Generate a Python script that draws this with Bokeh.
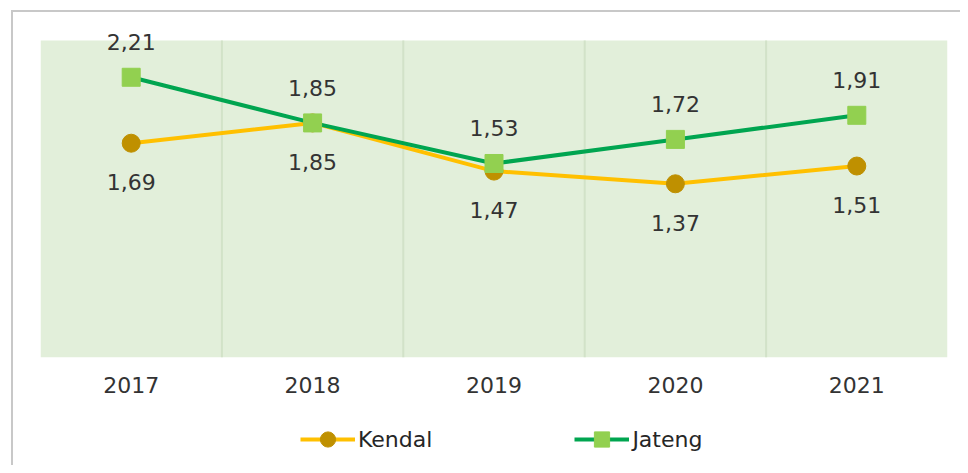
from bokeh.plotting import figure
from bokeh.layouts import column
from bokeh.models import (ColumnDataSource, Range1d, FixedTicker, Legend,
                          LegendItem)
from bokeh.core.properties import value
from bokeh.embed import file_html
from bokeh.resources import INLINE

# ---- data ----
years = ["2017", "2018", "2019", "2020", "2021"]
kendal = [1.69, 1.85, 1.47, 1.37, 1.51]
jateng = [2.21, 1.85, 1.53, 1.72, 1.91]
series_names = ["Kendal", "Jateng"]
y_max = 2.5

FONT = "DejaVu Sans"
TXT = "#333333"
BG = "#E2EFDA"
K_LINE, K_MARK = "#FFC000", "#BF9000"
J_LINE, J_MARK = "#00A550", "#92D050"

xs = [i + 0.5 for i in range(len(years))]
boundaries = [i for i in range(1, len(years))]

def fmt(v):
    return f"{v:.2f}".replace(".", ",")

src_k = ColumnDataSource(dict(x=xs, y=kendal, lab=[fmt(v) for v in kendal]))
src_j = ColumnDataSource(dict(x=xs, y=jateng, lab=[fmt(v) for v in jateng]))

# layout: green area spans y 40..357 px; frame extended up to 12 px so labels are not clipped
FRAME_TOP, AREA_TOP, AREA_BOTTOM = 12, 40, 357
y_end = y_max * (AREA_BOTTOM - FRAME_TOP) / (AREA_BOTTOM - AREA_TOP)

p = figure(width=960, height=420, output_backend="svg", toolbar_location=None,
           x_range=Range1d(0, len(years)), y_range=Range1d(0, y_end),
           y_axis_location=None,
           min_border_left=40, min_border_top=FRAME_TOP, min_border_right=13,
           min_border_bottom=420 - AREA_BOTTOM)

p.background_fill_alpha = 0
p.border_fill_alpha = 0
p.outline_line_color = None
p.xgrid.visible = False
p.ygrid.visible = False

# plot area background and category separators
p.quad(left=[0], right=[len(years)], bottom=[0], top=[y_max],
       fill_color=BG, line_color=None)
p.segment(x0=boundaries, x1=boundaries, y0=[0] * len(boundaries),
          y1=[y_max] * len(boundaries), line_color="#D2E2C8", line_width=2)

ax = p.xaxis[0]
ax.ticker = FixedTicker(ticks=xs)
ax.major_label_overrides = {x: y for x, y in zip(xs, years)}
ax.axis_line_color = None
ax.major_tick_line_color = None
ax.minor_tick_line_color = None
ax.major_label_standoff = 13
ax.major_label_text_font = FONT
ax.major_label_text_font_size = "22px"
ax.major_label_text_color = TXT

# Kendal
p.line("x", "y", source=src_k, line_color=K_LINE, line_width=4)
p.scatter("x", "y", source=src_k, marker="circle", size=18,
          fill_color=K_MARK, line_color=K_MARK)
# Jateng
p.line("x", "y", source=src_j, line_color=J_LINE, line_width=4)
p.scatter("x", "y", source=src_j, marker="square", size=18,
          fill_color=J_MARK, line_color=J_MARK)

p.text("x", "y", text="lab", source=src_k, text_align="center",
       text_baseline="middle", y_offset=39, text_font=value(FONT),
       text_font_size="22px", text_color=TXT)
p.text("x", "y", text="lab", source=src_j, text_align="center",
       text_baseline="middle", y_offset=-35, text_font=value(FONT),
       text_font_size="22px", text_color=TXT)

# ---- legend strip (same series, ranges set so that no data is in view) ----
lg = figure(width=960, height=45, output_backend="svg", toolbar_location=None,
            x_range=Range1d(100, 101), y_range=Range1d(100, 101),
            x_axis_location=None, y_axis_location=None,
            min_border_left=0, min_border_right=0, min_border_top=0,
            min_border_bottom=0)
lg.background_fill_alpha = 0
lg.border_fill_alpha = 0
lg.outline_line_color = None
lg.xgrid.visible = False
lg.ygrid.visible = False
lk1 = lg.line("x", "y", source=src_k, line_color=K_LINE, line_width=4)
lk2 = lg.scatter("x", "y", source=src_k, marker="circle", size=18,
                 fill_color=K_MARK, line_color=K_MARK)
lj1 = lg.line("x", "y", source=src_j, line_color=J_LINE, line_width=4)
lj2 = lg.scatter("x", "y", source=src_j, marker="square", size=18,
                 fill_color=J_MARK, line_color=J_MARK)

legend = Legend(items=[LegendItem(label=series_names[0], renderers=[lk1, lk2]),
                       LegendItem(label=series_names[1], renderers=[lj1, lj2])],
                location=(260, 7), orientation="horizontal",
                glyph_width=55, glyph_height=38, label_standoff=3,
                padding=0, margin=0, spacing=142,
                border_line_color=None, background_fill_alpha=0,
                label_text_font=FONT, label_text_font_size="22px",
                label_text_color="#262626")
lg.add_layout(legend, "center")

layout = column(p, lg, spacing=0)
layout.styles = {
    "background": ("linear-gradient(#c8c8c8,#c8c8c8) 11px 10px / 100% 2px no-repeat, "
                   "linear-gradient(#c8c8c8,#c8c8c8) 11px 10px / 2px 100% no-repeat, white"),
}

open("out.html", "w").write(file_html(layout, INLINE))
